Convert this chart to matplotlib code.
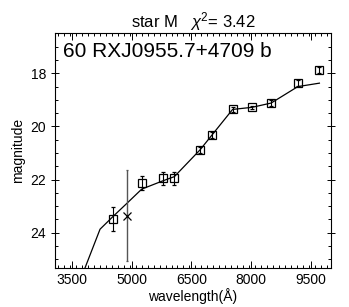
import matplotlib
matplotlib.use("Agg")
import matplotlib.pyplot as plt
from matplotlib.ticker import MultipleLocator, FixedLocator

plt.rcParams['font.family'] = ['Liberation Sans', 'DejaVu Sans']
plt.rcParams['mathtext.fontset'] = 'custom'
plt.rcParams['mathtext.rm'] = 'Liberation Sans'
plt.rcParams['mathtext.it'] = 'Liberation Sans:italic'

# observed photometry (squares)
obs_wave = [4538, 5252, 5780, 6072, 6718, 7019, 7535, 8025, 8503, 9174, 9717]
obs_mag = [23.48, 22.12, 21.95, 21.95, 20.88, 20.32, 19.36, 19.28, 19.12, 18.37, 17.87]
obs_err = [0.46, 0.26, 0.25, 0.25, 0.12, 0.12, 0.08, 0.05, 0.10, 0.12, 0.12]

# excluded point (cross)
x_wave = [4883]
x_mag = [23.36]
x_err = [1.72]

# model spectrum (synthetic magnitudes)
model_wave = [3600, 4204, 4538, 4883, 5252, 5780, 6072, 6718, 7019, 7535, 8025, 8503, 9174, 9717]
model_mag = [26.2, 23.87, 23.38, 22.89, 22.36, 22.05, 21.89, 20.88, 20.32, 19.36, 19.28, 19.12, 18.50, 18.37]

xticks = [3500, 5000, 6500, 8000, 9500]
yticks = [18, 20, 22, 24]

title = r'star M   $\chi^{2}$= 3.42'
label = '60 RXJ0955.7+4709 b'

fig = plt.figure(figsize=(3.49, 3.07), dpi=100)
ax = fig.add_axes([0.1585, 0.128, 0.789, 0.7655])

ax.plot(model_wave, model_mag, color='black', lw=0.9, zorder=2)
ax.errorbar(obs_wave, obs_mag, yerr=obs_err, fmt='s', ms=6, mfc='none',
            mec='black', mew=0.9, ecolor='black', elinewidth=0.8,
            capsize=1.5, capthick=0.8, zorder=3)
ax.errorbar(x_wave, x_mag, yerr=x_err, fmt='x', ms=6, mec='black', mew=0.9,
            ecolor='#555555', elinewidth=1.0, capsize=1.0, capthick=1.0,
            zorder=3)

ax.set_xlim(3080, 10000)
ax.set_ylim(25.32, 16.47)
ax.xaxis.set_major_locator(FixedLocator(xticks))
ax.xaxis.set_minor_locator(MultipleLocator(150))
ax.yaxis.set_major_locator(FixedLocator(yticks))
ax.yaxis.set_minor_locator(MultipleLocator(0.5))
ax.tick_params(which='both', direction='in', top=True, right=True,
               labelsize=10, width=0.7, color='black')
ax.tick_params(which='major', length=5)
ax.tick_params(which='minor', length=2.5)
ax.tick_params(axis='y', which='major', direction='inout', length=6)
for s in ax.spines.values():
    s.set_linewidth(0.8)

ax.set_xlabel('wavelength(Å)', fontsize=10, labelpad=1)
ax.set_ylabel('magnitude', fontsize=10, labelpad=4)
ax.set_title(title, fontsize=12, pad=3)
ax.text(0.028, 0.962, label, transform=ax.transAxes, fontsize=15,
        ha='left', va='top')

fig.savefig('out.png', dpi=100)
